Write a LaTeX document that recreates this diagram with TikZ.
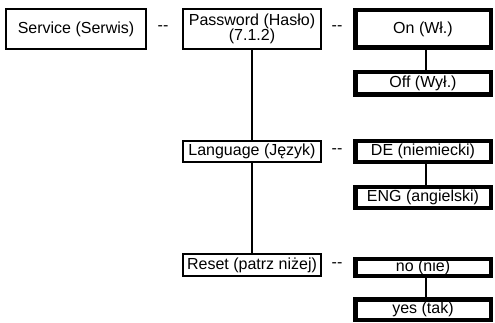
\documentclass[tikz,border=0pt]{standalone}
\usepackage{fontspec}
\setmainfont{Liberation Sans}
\begin{document}
\begin{tikzpicture}[x=1pt,y=1pt,
  every node/.style={font=\fontsize{16}{17}\selectfont, inner sep=0pt, outer sep=0pt},
  thinbox/.style={draw, line width=1.8pt, minimum width=138.2pt, align=center},
  thickbox/.style={draw, line width=4.5pt, minimum width=135.5pt},
  sep/.style={},
  conn/.style={line width=2pt}]
\useasboundingbox (0,0) rectangle (495,-323);
% left column
\node[thinbox, minimum width=140.2pt, minimum height=40.2pt] (svc) at (76,-29) {Service (Serwis)};
\node[sep] (d1) at (163,-28) {-{}-};
% middle column
\node[thinbox, minimum height=40.2pt] (pw) at (252,-29) {Password (Hasło)\\[-2pt](7.1.2)};
\node[thinbox, minimum height=21.2pt] (lang) at (252,-151.5) {Language (Język)};
\node[thinbox, minimum height=22.2pt] (reset) at (252,-265) {Reset (patrz niżej)};
% separators
\node[sep] (d2) at (337,-28) {-{}-};
\node[sep] (d3) at (337,-151) {-{}-};
\node[sep] (d4) at (337,-265) {-{}-};
% right column
\node[thickbox, minimum height=37.5pt] (on) at (423,-29) {On (Wł.)};
\node[thickbox, minimum height=22.5pt] (off) at (423,-83.5) {Off (Wył.)};
\node[thickbox, minimum height=21pt] (de) at (423,-151.5) {DE (niemiecki)};
\node[thickbox, minimum height=21pt] (eng) at (423,-197.5) {ENG (angielski)};
\node[thickbox, minimum height=17pt] (no) at (423,-267.5) {no (nie)};
\node[thickbox, minimum height=20.5pt] (yes) at (423,-309.5) {yes (tak)};
% connectors
\draw[conn] (pw.south) -- (lang.north);
\draw[conn] (lang.south) -- (reset.north);
\draw[conn] ([xshift=3pt]on.south) -- ([xshift=3pt]off.north);
\draw[conn] ([xshift=3pt]de.south) -- ([xshift=3pt]eng.north);
\draw[conn] ([xshift=3pt]no.south) -- ([xshift=3pt]yes.north);
\end{tikzpicture}
\end{document}
